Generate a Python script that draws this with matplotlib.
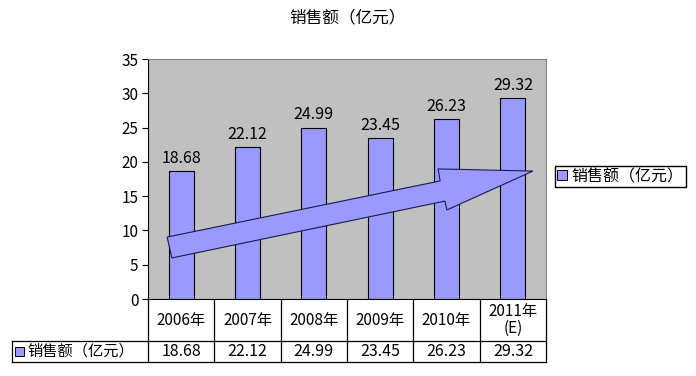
import matplotlib
matplotlib.use('Agg')
import matplotlib.pyplot as plt
from matplotlib.patches import Polygon, Rectangle
import numpy as np

plt.rcParams['font.family'] = ['Noto Sans CJK SC', 'DejaVu Sans']

title = '销售额（亿元）'
series_name = '销售额（亿元）'
years = ['2006年', '2007年', '2008年', '2009年', '2010年', '2011年\n(E)']
sales = [18.68, 22.12, 24.99, 23.45, 26.23, 29.32]

bar_color = '#9999FF'
fig = plt.figure(figsize=(6.96, 3.76), dpi=100)
W, H = 696, 376
l, r, t, b = 148, 546, 59, 299
ax = fig.add_axes([l / W, 1 - b / H, (r - l) / W, (b - t) / H])
ax.set_facecolor('#C0C0C0')

x = np.arange(len(years))
ax.bar(x, sales, width=0.38, color=bar_color, edgecolor='black', linewidth=0.8, zorder=2)
for xi, v in zip(x, sales):
    ax.annotate(f'{v:.2f}', (xi, v), xytext=(0, 3), textcoords='offset points',
                ha='center', va='bottom', fontsize=11.5)

ax.set_xlim(-0.5, len(years) - 0.5)
ax.set_ylim(0, 35)
ax.set_yticks(range(0, 36, 5))
ax.tick_params(axis='y', labelsize=11, length=4, width=0.8, pad=3)
ax.set_xticks([])
for s in ['top', 'right']:
    ax.spines[s].set_color('#808080')
ax.spines['left'].set_color('black')
ax.spines['bottom'].set_color('black')

# big trend arrow (axes fraction)
arrow = [(0.048, 0.258), (0.060, 0.171), (0.746, 0.408), (0.751, 0.371),
         (0.967, 0.533), (0.729, 0.542), (0.734, 0.492)]
ax.add_patch(Polygon(arrow, closed=True, transform=ax.transAxes, facecolor=bar_color,
                     edgecolor='#1a1a4d', linewidth=0.8, zorder=3))

# data table under the plot
hh = 42 / (b - t)
dh = 21 / (b - t)
lx = (12 - l) / (r - l)
n = len(years)
lk = dict(color='black', linewidth=0.9, transform=ax.transAxes, clip_on=False)
for i in range(n + 1):
    ax.plot([i / n, i / n], [0, -(hh + dh)], **lk)
ax.plot([lx, 1], [-hh, -hh], **lk)
ax.plot([lx, 1], [-(hh + dh), -(hh + dh)], **lk)
ax.plot([lx, lx], [-hh, -(hh + dh)], **lk)
for i, (yr, v) in enumerate(zip(years, sales)):
    ax.text((i + 0.5) / n, -hh / 2, yr, transform=ax.transAxes, ha='center', va='center',
            fontsize=11, linespacing=1.0)
    ax.text((i + 0.5) / n, -hh - dh / 2, f'{v:.2f}', transform=ax.transAxes,
            ha='center', va='center', fontsize=11.5)
sq = 9 / (r - l)
sqh = 9 / (b - t)
ax.add_patch(Rectangle((lx + 3 / (r - l), -hh - dh / 2 - sqh / 2), sq, sqh, transform=ax.transAxes,
                       facecolor=bar_color, edgecolor='black', linewidth=0.7, clip_on=False))
ax.text(lx + 15 / (r - l), -hh - dh / 2, series_name, transform=ax.transAxes,
        ha='left', va='center', fontsize=11)

# title and legend
fig.text(348 / W, 1 - 18 / H, title, ha='center', va='center', fontsize=12)
leg_h = Rectangle((0, 0), 1, 1, facecolor=bar_color, edgecolor='black', linewidth=0.7)
fig.legend([leg_h], [series_name], loc='center left', bbox_to_anchor=(555 / W, 1 - 176.5 / H),
           borderaxespad=0, fancybox=False, edgecolor='black', framealpha=1,
           handlelength=0.6, handleheight=0.6, handletextpad=0.3, borderpad=0.15,
           fontsize=11.5)

fig.savefig('out.png', dpi=100)
